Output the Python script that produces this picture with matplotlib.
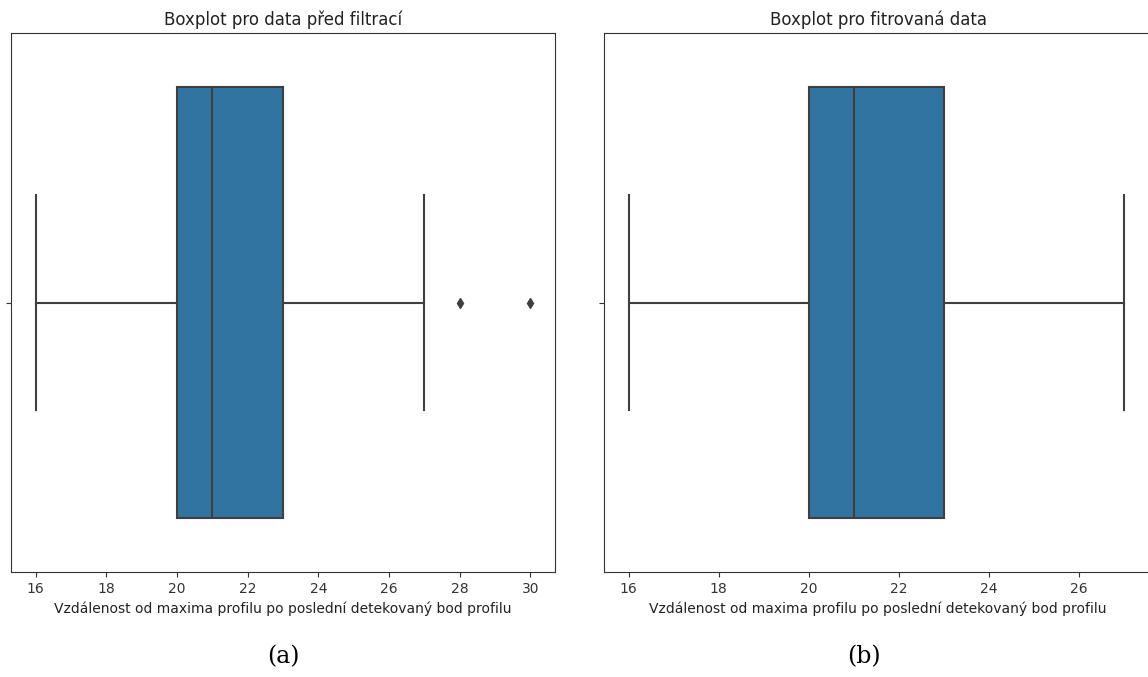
#Boxplots of distance from profile maximum to last detected point
import matplotlib.pyplot as plt

#summary values
titles = ['Boxplot pro data před filtrací', 'Boxplot pro fitrovaná data']
captions = ['(a)', '(b)']
xlabel = 'Vzdálenost od maxima profilu po poslední detekovaný bod profilu'
whislo = [16, 16]
q1 = [20, 20]
med = [21, 21]
q3 = [23, 23]
whishi = [27, 27]
fliers = [[28, 30], []]
xticks = [[16, 18, 20, 22, 24, 26, 28, 30], [16, 18, 20, 22, 24, 26]]

box_color = '#3274a1'
line_color = '#3f3f3f'

fig = plt.figure(figsize=(11.48, 6.77), dpi=100)
#axes positions in pixels: left, top, width (right one runs off the edge)
boxes_px = [(11, 33, 544), (604, 33, 548)]
caption_x = [283, 864]

for i in range(2):
    l, t, w = boxes_px[i]
    ax = fig.add_axes([l / 1148, 1 - (t + 539) / 677, w / 1148, 539 / 677])
    stats = [{'whislo': whislo[i], 'q1': q1[i], 'med': med[i], 'q3': q3[i],
              'whishi': whishi[i], 'fliers': fliers[i]}]
    ax.bxp(stats, positions=[0], widths=0.8, vert=False, patch_artist=True,
           boxprops=dict(facecolor=box_color, edgecolor=line_color, linewidth=1.5),
           medianprops=dict(color=line_color, linewidth=1.5),
           whiskerprops=dict(color=line_color, linewidth=1.5),
           capprops=dict(color=line_color, linewidth=1.5),
           capwidths=0.4,
           flierprops=dict(marker='d', markerfacecolor=line_color,
                           markeredgecolor=line_color, markersize=5))
    lo = whislo[i]
    hi = max([whishi[i]] + fliers[i])
    pad = (hi - lo) * 0.05
    if i == 0:
        ax.set_xlim(lo - pad, hi + pad)
    else:
        #right panel is cropped, keep the same scale as the reference
        ax.set_xlim(lo - pad, lo - pad + w / 45.0)
    ax.set_ylim(0.5, -0.5)
    ax.set_xticks(xticks[i])
    ax.set_yticks([0])
    ax.set_yticklabels([''])
    for s in ax.spines.values():
        s.set_color('#333333')
    ax.tick_params(labelsize=10, colors='#333333')
    ax.set_title(titles[i], fontsize=12, color='#222222')
    ax.set_xlabel(xlabel, fontsize=10, color='#222222')
    fig.text(caption_x[i] / 1148, 1 - 657 / 677, captions[i], ha='center', va='center',
             fontsize=17, family='DejaVu Serif')

plt.savefig('out.png', dpi=100)
